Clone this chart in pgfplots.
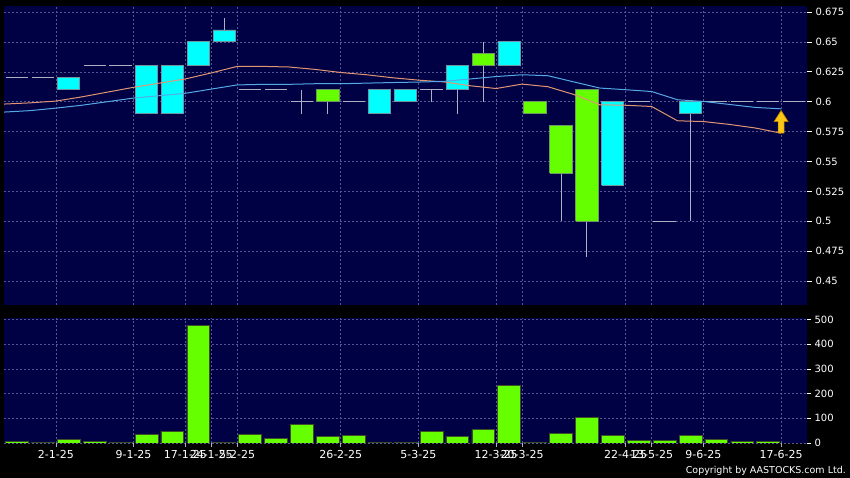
\documentclass[border=0pt]{standalone}
\usepackage{pgfplots}
\pgfplotsset{compat=1.18}
\usepackage{fontspec}
\setmainfont{DejaVu Sans}
\definecolor{bgnavy}{RGB}{0,0,68}
\definecolor{gridcol}{RGB}{85,85,145}
\definecolor{cyanc}{RGB}{0,255,255}
\definecolor{limec}{RGB}{102,255,0}
\definecolor{cedge}{RGB}{110,150,160}
\definecolor{ledge}{RGB}{110,150,100}
\definecolor{wick}{RGB}{175,175,195}
\definecolor{maorange}{RGB}{225,150,115}
\definecolor{mablue}{RGB}{85,170,230}
\definecolor{voledge}{RGB}{60,80,40}
\definecolor{arrowfill}{RGB}{250,200,20}
\definecolor{arrowedge}{RGB}{190,120,0}
% horizontal doji line: x, value
\newcommand\hl[2]{\pgfmathsetmacro\xa{#1-0.43}\pgfmathsetmacro\xb{#1+0.43}%
\addplot[wick, line width=0.8pt] coordinates {(\xa,#2) (\xb,#2)};}
% wick: x, low, high
\newcommand\wk[3]{\addplot[wick, line width=0.8pt] coordinates {(#1,#2) (#1,#3)};}
% body: x, low, high, fill, edge
\newcommand\bx[5]{\pgfmathsetmacro\xa{#1-0.43}\pgfmathsetmacro\xb{#1+0.43}%
\addplot[fill=#4, draw=#5, line width=0.8pt] coordinates {(\xa,#2) (\xb,#2) (\xb,#3) (\xa,#3) (\xa,#2)};}
\begin{document}
\begin{tikzpicture}
\fill[black] (0,0) rectangle (850pt,478pt);
\begin{axis}[
  at={(4pt,173pt)}, anchor=south west, scale only axis,
  width=803pt, height=299pt,
  xmin=0.5, xmax=31.5, ymin=0.43, ymax=0.68,
  axis background/.style={fill=bgnavy},
  axis line style={draw=none},
  xtick={2.5,5.5,7.5,8.5,9.5,13.5,16.5,19.5,20.5,24.5,25.5,27.5,30.5},
  xticklabels={}, xtick style={draw=none},
  ytick={0.45,0.475,0.5,0.525,0.55,0.575,0.6,0.625,0.65,0.675},
  yticklabels={0.45,0.475,0.5,0.525,0.55,0.575,0.6,0.625,0.65,0.675},
  ytick pos=right, yticklabel pos=right, tick align=outside, major tick length=5pt,
  ytick style={white, line width=0.6pt},
  yticklabel style={white, font=\fontsize{10}{12}\selectfont},
  grid=major, grid style={gridcol, dash pattern=on 2pt off 2pt, line width=0.5pt},
]
% wicks
\wk{9}{0.66}{0.67}
\wk{12}{0.59}{0.61}
\wk{13}{0.59}{0.60}
\wk{17}{0.60}{0.61}
\wk{18}{0.59}{0.61}
\wk{19}{0.60}{0.65}
\wk{22}{0.50}{0.54}
\wk{23}{0.47}{0.50}
\wk{27}{0.50}{0.59}
% doji lines
\hl{1}{0.62}
\hl{2}{0.62}
\hl{4}{0.63}
\hl{5}{0.63}
\hl{10}{0.61}
\hl{11}{0.61}
\hl{12}{0.60}
\hl{14}{0.60}
\hl{17}{0.61}
\hl{25}{0.60}
\hl{26}{0.50}
\hl{28}{0.60}
\hl{29}{0.60}
\hl{30}{0.60}
\hl{31}{0.60}
% bodies
\bx{3}{0.61}{0.62}{cyanc}{cedge}
\bx{6}{0.59}{0.63}{cyanc}{cedge}
\bx{7}{0.59}{0.63}{cyanc}{cedge}
\bx{8}{0.63}{0.65}{cyanc}{cedge}
\bx{9}{0.65}{0.66}{cyanc}{cedge}
\bx{13}{0.60}{0.61}{limec}{ledge}
\bx{15}{0.59}{0.61}{cyanc}{cedge}
\bx{16}{0.60}{0.61}{cyanc}{cedge}
\bx{18}{0.61}{0.63}{cyanc}{cedge}
\bx{19}{0.63}{0.64}{limec}{ledge}
\bx{20}{0.63}{0.65}{cyanc}{cedge}
\bx{21}{0.59}{0.60}{limec}{ledge}
\bx{22}{0.54}{0.58}{limec}{ledge}
\bx{23}{0.50}{0.61}{limec}{ledge}
\bx{24}{0.53}{0.60}{cyanc}{cedge}
\bx{27}{0.59}{0.60}{cyanc}{cedge}
% moving averages
\addplot[maorange, line width=1pt] coordinates {
 (0.5,0.598) (1.5,0.599) (2.5,0.6005) (3.5,0.604) (4.5,0.608) (5.5,0.612)
 (6.5,0.6155) (7.5,0.619) (8.5,0.624) (9.5,0.6295) (10.5,0.6295) (11.5,0.629)
 (12.5,0.627) (13.5,0.6244) (14.5,0.6225) (15.5,0.620) (16.5,0.618) (17.5,0.6165)
 (18.5,0.6133) (19.5,0.611) (20.5,0.6147) (21.5,0.6125) (22.5,0.606) (23.5,0.5974)
 (24.5,0.597) (25.5,0.596) (26.5,0.584) (27.5,0.5834) (28.5,0.581) (29.5,0.578)
 (30.5,0.5737)};
\addplot[mablue, line width=1pt] coordinates {
 (0.5,0.5913) (1.5,0.5925) (2.5,0.5946) (3.5,0.597) (4.5,0.600) (5.5,0.603)
 (6.5,0.605) (7.5,0.607) (8.5,0.6105) (9.5,0.614) (10.5,0.6145) (11.5,0.6145)
 (12.5,0.615) (13.5,0.615) (14.5,0.6155) (15.5,0.616) (16.5,0.6164) (17.5,0.617)
 (18.5,0.619) (19.5,0.621) (20.5,0.6225) (21.5,0.6217) (22.5,0.6165) (23.5,0.6114)
 (24.5,0.610) (25.5,0.6085) (26.5,0.6016) (27.5,0.6002) (28.5,0.5977) (29.5,0.5952)
 (30.5,0.594)};
% signal arrow
\addplot[fill=arrowfill, draw=arrowedge, line width=0.6pt] coordinates {
 (30.384,0.5737) (30.616,0.5737) (30.616,0.5834) (30.77,0.5834) (30.5,0.5926)
 (30.23,0.5834) (30.384,0.5834) (30.384,0.5737)};
\end{axis}
\begin{axis}[
  at={(4pt,35pt)}, anchor=south west, scale only axis,
  width=803pt, height=125pt,
  xmin=0.5, xmax=31.5, ymin=0, ymax=506,
  axis background/.style={fill=bgnavy},
  axis line style={draw=none},
  xtick={2.5,5.5,7.5,8.5,9.5,13.5,16.5,19.5,20.5,24.5,25.5,27.5,30.5},
  xticklabels={2-1-25,9-1-25,17-1-25,24-1-25,5-2-25,26-2-25,5-3-25,12-3-25,20-3-25,22-4-25,13-5-25,9-6-25,17-6-25},
  xtick pos=bottom, ytick pos=right, yticklabel pos=right,
  tick align=outside, major tick length=4pt,
  xtick style={wick, line width=0.6pt},
  ytick style={white, line width=0.6pt},
  ytick={0,100,200,300,400,500},
  yticklabels={0,100,200,300,400,500},
  xticklabel style={white, font=\fontsize{11}{12}\selectfont},
  yticklabel style={white, font=\fontsize{10}{12}\selectfont},
  grid=major, grid style={gridcol, dash pattern=on 2pt off 2pt, line width=0.5pt},
]
\addplot[ybar, bar width=0.88, fill=limec, draw=voledge, line width=0.6pt] coordinates {
 (1,8) (2,1) (3,13) (4,5) (5,1) (6,34) (7,47) (8,477) (9,4) (10,34)
 (11,20) (12,75) (13,26) (14,30) (15,4) (16,4) (17,47) (18,27) (19,54) (20,233)
 (21,4) (22,38) (23,105) (24,30) (25,9) (26,9) (27,31) (28,16) (29,7) (30,7)};
\end{axis}
\node[anchor=east, text=white, inner sep=0pt, font=\fontsize{9.5}{11}\selectfont] at (846pt,7pt) {Copyright by AASTOCKS.com Ltd.};
\end{tikzpicture}
\end{document}
